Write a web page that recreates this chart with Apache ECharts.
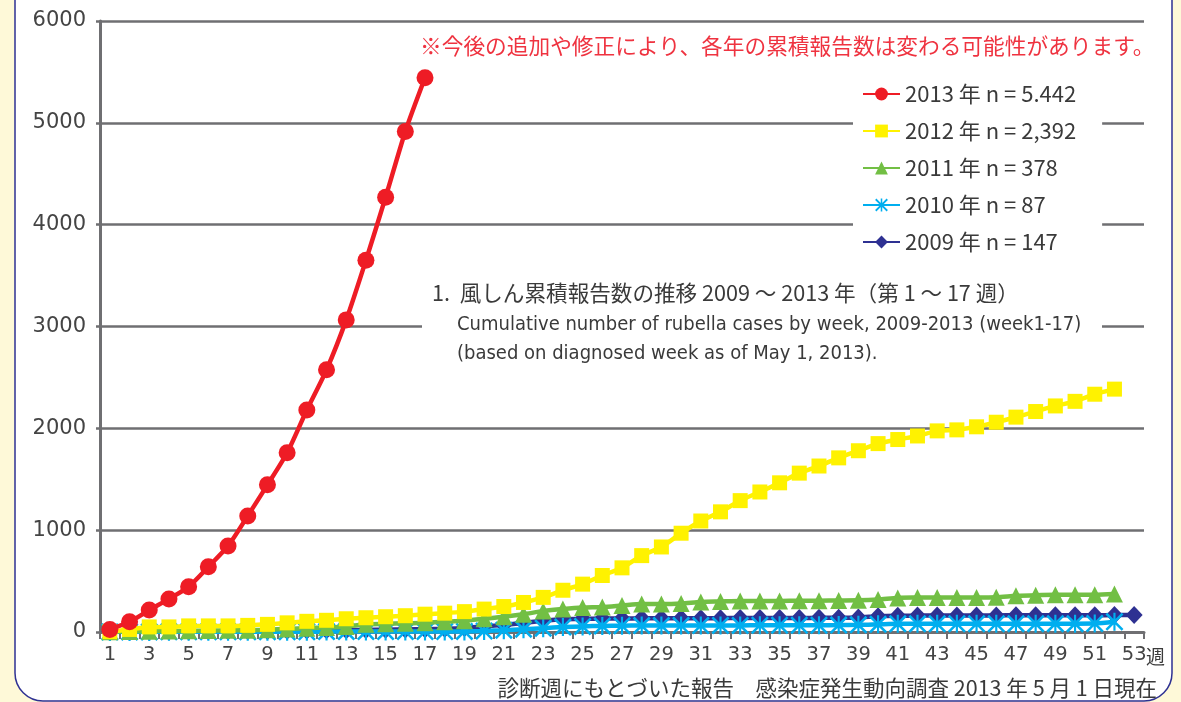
<!DOCTYPE html>
<html>
<head>
<meta charset="utf-8">
<script src="https://cdn.jsdelivr.net/npm/echarts@6/dist/echarts.min.js"></script>
<style>
html,body{margin:0;padding:0;background:#fef9d8;}
#c{width:1181px;height:702px;}
</style>
</head>
<body>
<div id="c"></div>
<script>
var weeks = ['1','2','3','4','5','6','7','8','9','10','11','12','13','14','15','16','17','18','19','20','21','22','23','24','25','26','27','28','29','30','31','32','33','34','35','36','37','38','39','40','41','42','43','44','45','46','47','48','49','50','51','52','53'];
var yTicks = [0, 1000, 2000, 3000, 4000, 5000, 6000];

var seriesNames = ['2013 年 n = 5.442', '2012 年 n = 2,392', '2011 年 n = 378', '2010 年 n = 87', '2009 年 n = 147'];

var cases2013 = [25, 100, 215, 325, 445, 640, 845, 1140, 1445, 1760, 2180, 2575, 3065, 3650, 4270, 4915, 5442];

var cases2012 = [3, 25, 50, 50, 60, 60, 60, 65, 75, 90, 105, 115, 130, 140, 150, 160, 175, 185, 200, 225, 250, 290, 340, 410, 470, 555, 630, 750, 835, 970, 1090, 1180, 1290, 1375, 1465, 1560, 1630, 1710, 1780, 1850, 1890, 1925, 1975, 1985, 2015, 2060, 2110, 2165, 2220, 2265, 2335, 2385];

var cases2011 = [3, 5, 8, 10, 12, 14, 16, 18, 22, 30, 38, 45, 55, 75, 80, 85, 90, 100, 110, 130, 150, 175, 205, 225, 240, 245, 260, 275, 275, 280, 295, 300, 305, 305, 305, 308, 308, 310, 312, 320, 335, 338, 340, 340, 340, 342, 355, 362, 365, 365, 365, 372];

var cases2010 = [1, 1, 1, 2, 2, 2, 2, 3, 3, 3, 3, 4, 4, 4, 4, 5, 5, 5, 6, 10, 18, 28, 38, 48, 55, 60, 62, 63, 63, 64, 64, 65, 65, 66, 66, 67, 67, 68, 70, 75, 80, 80, 80, 81, 81, 81, 82, 82, 82, 82, 83, 100];

var cases2009 = [2, 3, 4, 5, 6, 7, 8, 9, 10, 12, 14, 16, 18, 20, 22, 25, 28, 32, 40, 55, 70, 90, 110, 125, 130, 132, 133, 134, 135, 135, 136, 136, 137, 137, 138, 138, 139, 140, 142, 155, 160, 161, 162, 162, 163, 163, 164, 164, 165, 165, 165, 166, 166];

var colors = ['#ee1c25', '#fff200', '#72bf44', '#00aeef', '#2e3192'];
var GRAY = '#6f6f72';
var JP = '"Noto Sans CJK JP", "Noto Sans", sans-serif';
var NUM = '"DejaVu Sans", sans-serif';
var starPath = 'path://M1,0 L5,4 L9,0 L10,1 L6,5 L10,9 L9,10 L5,6 L1,10 L0,9 L4,5 L0,1 Z M4.4,0 L5.6,0 L5.6,10 L4.4,10 Z';

var chart = echarts.init(document.getElementById('c'));
var option = {
  backgroundColor: 'transparent',
  animation: false,
  grid: {left: 100, right: 37, top: 21, bottom: 70, containLabel: false},
  xAxis: {
    type: 'category',
    data: weeks,
    boundaryGap: true,
    axisLine: {lineStyle: {color: GRAY, width: 3}},
    axisTick: {show: true, interval: 0, length: 7, lineStyle: {color: GRAY, width: 2}},
    axisLabel: {interval: 1, margin: 13, fontSize: 19.5, color: '#444', fontFamily: NUM},
    splitLine: {show: false}
  },
  yAxis: {
    type: 'value',
    min: yTicks[0],
    max: yTicks[yTicks.length - 1],
    interval: 1000,
    axisLine: {show: true, lineStyle: {color: GRAY, width: 3}},
    axisTick: {show: true, length: 4, lineStyle: {color: GRAY, width: 2.5}},
    axisLabel: {margin: 14, fontSize: 21, color: '#444', fontFamily: NUM, formatter: function (v) { return String(v); }},
    splitLine: {show: true, lineStyle: {color: GRAY, width: 2.5}}
  },
  legend: {
    orient: 'vertical',
    left: 853,
    top: 73,
    data: seriesNames,
    itemWidth: 37,
    itemHeight: 16,
    itemGap: 15,
    backgroundColor: '#ffffff',
    padding: [10, 26, 12, 9],
    textStyle: {fontSize: 22, color: '#3a3a3a', fontFamily: JP},
    z: 5
  },
  graphic: [
    {type: 'rect', z: -10, silent: true, shape: {x: 15, y: -40, width: 1157, height: 741, r: 28}, style: {fill: '#ffffff', stroke: '#2e3192', lineWidth: 1.5}},
    {type: 'rect', z: 4, silent: true, shape: {x: 422, y: 275, width: 680, height: 95}, style: {fill: '#ffffff'}},
    {type: 'text', z: 6, silent: true, x: 432, y: 293, style: {text: '1.  風しん累積報告数の推移 2009 ～ 2013 年（第 1 ～ 17 週）', fill: '#3a3a3a', font: '21.6px ' + JP, textVerticalAlign: 'middle'}},
    {type: 'text', z: 6, silent: true, x: 457, y: 325, style: {text: 'Cumulative number of rubella cases by week, 2009-2013 (week1-17)', fill: '#3a3a3a', font: '20px "Liberation Sans Narrow", "DejaVu Sans Condensed", sans-serif', textVerticalAlign: 'middle'}},
    {type: 'text', z: 6, silent: true, x: 457, y: 354, style: {text: '(based on diagnosed week as of May 1, 2013).', fill: '#3a3a3a', font: '20px "Liberation Sans Narrow", "DejaVu Sans Condensed", sans-serif', textVerticalAlign: 'middle'}},
    {type: 'text', z: 6, silent: true, x: 420, y: 46, style: {text: '※今後の追加や修正により、各年の累積報告数は変わる可能性があります。', fill: '#ef3340', font: '21.7px ' + JP, textVerticalAlign: 'middle'}},
    {type: 'text', z: 6, silent: true, x: 1146, y: 657, style: {text: '週', fill: '#3a3a3a', font: '19px ' + JP, textVerticalAlign: 'middle'}},
    {type: 'text', z: 6, silent: true, x: 1157, y: 688, style: {text: '診断週にもとづいた報告　感染症発生動向調査 2013 年 5 月 1 日現在', fill: '#3a3a3a', font: '21.5px ' + JP, textAlign: 'right', textVerticalAlign: 'middle'}}
  ],
  series: [
    {name: seriesNames[0], type: 'line', data: cases2013, z: 10, smooth: 0.25, symbol: 'circle', symbolSize: 17, showAllSymbol: true,
      lineStyle: {color: colors[0], width: 4.5}, itemStyle: {color: colors[0]}},
    {name: seriesNames[1], type: 'line', data: cases2012, z: 9, smooth: 0.25, symbol: 'rect', symbolSize: 15, showAllSymbol: true,
      lineStyle: {color: colors[1], width: 4.5}, itemStyle: {color: colors[1]}},
    {name: seriesNames[2], type: 'line', data: cases2011, z: 8, smooth: 0.25, symbol: 'triangle', symbolSize: 17, showAllSymbol: true,
      lineStyle: {color: colors[2], width: 4.5}, itemStyle: {color: colors[2]}},
    {name: seriesNames[3], type: 'line', data: cases2010, z: 7, smooth: 0.25, symbol: starPath, symbolSize: 18, showAllSymbol: true,
      lineStyle: {color: colors[3], width: 4.5}, itemStyle: {color: colors[3]}},
    {name: seriesNames[4], type: 'line', data: cases2009, z: 6, smooth: 0.25, symbol: 'diamond', symbolSize: [17, 18], showAllSymbol: true,
      lineStyle: {color: colors[4], width: 4.5}, itemStyle: {color: colors[4]}}
  ]
};
chart.setOption(option);
</script>
</body>
</html>
